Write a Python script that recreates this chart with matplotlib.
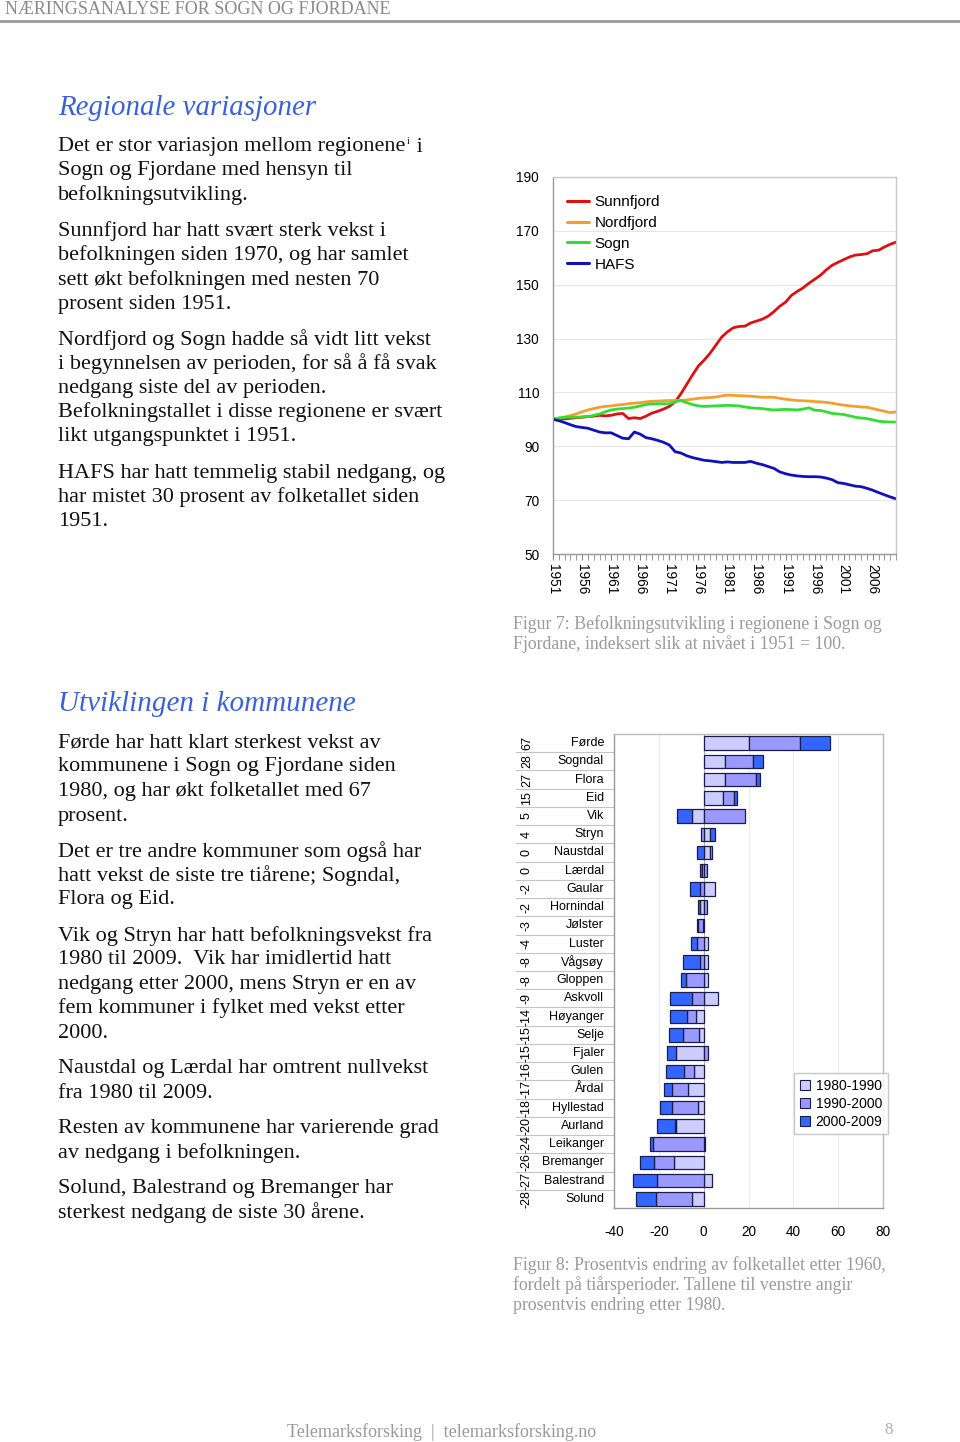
import matplotlib
matplotlib.use('Agg')
import matplotlib.pyplot as plt
from matplotlib.patches import Patch
from matplotlib.lines import Line2D
import numpy as np

W, H = 960, 1442
SERIF = 'Liberation Serif'
SANS = 'Liberation Sans'

# ---- figur 7: befolkning indeksert 1951 = 100 ----
years = list(range(1951, 2011))
sunnfjord = [100, 100, 100.2, 100.4, 100.6, 100.8, 101, 101.2, 101.5, 101.3,
             101.5, 102, 102.2, 100.3, 100.6, 100.3, 101.2, 102.3, 103, 103.8,
             104.8, 106.5, 109.5, 113, 116.5, 119.8, 122, 124.5, 127.5, 130.5,
             132.5, 134, 134.5, 134.6, 135.8, 136.5, 137.2, 138.3, 140, 142,
             143.5, 146, 147.5, 148.8, 150.5, 152, 153.5, 155.5, 157.2, 158.3,
             159.3, 160.3, 161, 161.2, 161.5, 162.6, 162.8, 164, 165, 165.8]
nordfjord = [100, 100.4, 100.8, 101.4, 102, 102.8, 103.5, 104, 104.5, 104.8,
             105, 105.3, 105.5, 105.8, 106, 106.2, 106.5, 106.7, 106.8, 106.9,
             107, 107, 107, 107.2, 107.5, 107.8, 108, 108.1, 108.3, 108.7,
             109, 108.9, 108.8, 108.7, 108.6, 108.4, 108.2, 108.2, 108.2, 107.8,
             107.5, 107.2, 107, 106.9, 106.8, 106.6, 106.5, 106.3, 106, 105.6,
             105.3, 105, 104.8, 104.6, 104.5, 104, 103.5, 103, 102.5, 102.8]
sogn = [100, 100.5, 100.8, 100.8, 100.8, 100.9, 101, 101.5, 102, 102.8,
        103.5, 103.8, 104, 104.2, 104.5, 105, 105.5, 105.7, 105.8, 105.8,
        105.8, 106.5, 107, 106.2, 105.5, 105, 104.8, 104.9, 105, 105.1,
        105.2, 105.1, 105, 104.6, 104.3, 104.1, 104, 103.7, 103.5, 103.6,
        103.7, 103.6, 103.5, 103.8, 104.3, 103.4, 103.3, 102.8, 102.2, 102,
        101.8, 101.3, 100.8, 100.5, 100.3, 99.8, 99.3, 99.1, 99, 99]
hafs = [100, 99.5, 98.8, 98, 97.3, 97, 96.7, 96, 95.3, 95,
        95, 94, 93, 92.8, 95.3, 94.5, 93.2, 92.8, 92.2, 91.5,
        90.5, 88, 87.5, 86.5, 85.8, 85.3, 84.8, 84.6, 84.3, 84,
        84.2, 84, 84, 84, 84.4, 83.7, 83.2, 82.5, 81.8, 80.5,
        79.8, 79.3, 79, 78.8, 78.7, 78.7, 78.6, 78.2, 77.6, 76.5,
        76.2, 75.7, 75.2, 75, 74.4, 73.7, 72.8, 72, 71.2, 70.5]

# ---- figur 8: prosentvis endring per tiar ----
kommuner = ['Førde', 'Sogndal', 'Flora', 'Eid', 'Vik', 'Stryn', 'Naustdal',
            'Lærdal', 'Gaular', 'Hornindal', 'Jølster', 'Luster', 'Vågsøy',
            'Gloppen', 'Askvoll', 'Høyanger', 'Selje', 'Fjaler', 'Gulen',
            'Årdal', 'Hyllestad', 'Aurland', 'Leikanger', 'Bremanger',
            'Balestrand', 'Solund']
endring_1980 = ['67', '28', '27', '15', '5', '4', '0', '0', '-2', '-2', '-3',
                '-4', '-8', '-8', '-9', '-14', '-15', '-15', '-16', '-17',
                '-18', '-20', '-24', '-26', '-27', '-28']
p1980_1990 = [20, 9.4, 9.4, 8.6, -5.2, 2.7, 2.7, -0.6, 5.2, -1.8, -0.4, 2,
              2, 1.9, 6.2, -3.3, -2.1, -12.3, -4.3, -6.8, -2.7, -12.2, 0.4,
              -13.1, 3.7, -5.4]
p1990_2000 = [23, 12.5, 14, 4.8, 18.3, -1.2, 0.9, 1.5, -1.8, 1.5, -2.2, -2.8,
              -1.8, -8, -5, -4.2, -7.1, 1.8, -4.3, -7.4, -11.5, -0.4, -22.6,
              -8.9, -20.8, -15.9]
p2000_2009 = [13.5, 4.5, 1.6, 1.6, -6.7, 2.4, -3, -0.9, -4.3, -0.7, -0.2,
              -2.7, -7.6, -2.1, -9.8, -7.4, -6.4, -4.2, -8.3, -3.6, -5.2,
              -8.2, -1.5, -6.5, -10.7, -8.9]
perioder = ['1980-1990', '1990-2000', '2000-2009']


def fx(x):
    return x / W


def fy(y):
    return 1 - y / H


fig = plt.figure(figsize=(W / 100, H / 100), dpi=100)
renderer = fig.canvas.get_renderer()

# header
fig.text(fx(5), fy(9), 'NÆRINGSANALYSE FOR SOGN OG FJORDANE', family=SERIF,
         fontsize=13, color='#8a8a8a', va='center', ha='left')
fig.add_artist(Line2D([0, 1], [fy(21), fy(21)], color='#9a9a9a', lw=2,
                      transform=fig.transFigure))

blue = '#3a62d6'
body = dict(family=SERIF, fontsize=16, color='#111111', va='center', ha='left')

fig.text(fx(58), fy(108), 'Regionale variasjoner', family=SERIF, style='italic',
         fontsize=20.8, color=blue, va='center')

# first line with a small footnote mark after "regionene"
t0 = fig.text(fx(58), fy(147), 'Det er stor variasjon mellom regionene', **body)
x_end = t0.get_window_extent(renderer).x1
fig.text(x_end / W + fx(1), fy(141), 'i', family=SERIF, fontsize=7,
         color='#111111', va='center', ha='left')
fig.text(x_end / W + fx(6), fy(147), ' i', **body)

left_lines = [
    (171, 'Sogn og Fjordane med hensyn til'),
    (195, 'befolkningsutvikling.'),
    (231, 'Sunnfjord har hatt svært sterk vekst i'),
    (255, 'befolkningen siden 1970, og har samlet'),
    (280, 'sett økt befolkningen med nesten 70'),
    (304, 'prosent siden 1951.'),
    (340, 'Nordfjord og Sogn hadde så vidt litt vekst'),
    (364, 'i begynnelsen av perioden, for så å få svak'),
    (388, 'nedgang siste del av perioden.'),
    (412, 'Befolkningstallet i disse regionene er svært'),
    (436, 'likt utgangspunktet i 1951.'),
    (473, 'HAFS har hatt temmelig stabil nedgang, og'),
    (497, 'har mistet 30 prosent av folketallet siden'),
    (521, '1951.'),
]
for y, s in left_lines:
    fig.text(fx(58), fy(y), s, **body)

fig.text(fx(58), fy(704), 'Utviklingen i kommunene', family=SERIF, style='italic',
         fontsize=21, color=blue, va='center')
left_lines2 = [
    (743, 'Førde har hatt klart sterkest vekst av'),
    (767, 'kommunene i Sogn og Fjordane siden'),
    (791, '1980, og har økt folketallet med 67'),
    (816, 'prosent.'),
    (852, 'Det er tre andre kommuner som også har'),
    (876, 'hatt vekst de siste tre tiårene; Sogndal,'),
    (900, 'Flora og Eid.'),
    (936, 'Vik og Stryn har hatt befolkningsvekst fra'),
    (960, '1980 til 2009.  Vik har imidlertid hatt'),
    (984, 'nedgang etter 2000, mens Stryn er en av'),
    (1008, 'fem kommuner i fylket med vekst etter'),
    (1033, '2000.'),
    (1069, 'Naustdal og Lærdal har omtrent nullvekst'),
    (1093, 'fra 1980 til 2009.'),
    (1129, 'Resten av kommunene har varierende grad'),
    (1153, 'av nedgang i befolkningen.'),
    (1189, 'Solund, Balestrand og Bremanger har'),
    (1213, 'sterkest nedgang de siste 30 årene.'),
]
for y, s in left_lines2:
    fig.text(fx(58), fy(y), s, **body)

cap = dict(family=SERIF, fontsize=12.8, color='#9a9a9a', va='center', ha='left')
fig.text(fx(513), fy(624), 'Figur 7: Befolkningsutvikling i regionene i Sogn og', **cap)
fig.text(fx(513), fy(644), 'Fjordane, indeksert slik at nivået i 1951 = 100.', **cap)
fig.text(fx(513), fy(1265), 'Figur 8: Prosentvis endring av folketallet etter 1960,', **cap)
fig.text(fx(513), fy(1285), 'fordelt på tiårsperioder. Tallene til venstre angir', **cap)
fig.text(fx(513), fy(1305), 'prosentvis endring etter 1980.', **cap)

fig.text(fx(287), fy(1432), 'Telemarksforsking  |  telemarksforsking.no', family=SERIF,
         fontsize=13, color='#9a9a9a', va='center')
fig.text(fx(884), fy(1430), '8', family=SERIF, fontsize=12, color='#b0b0b0', va='center')

# ---- line chart ----
ax1 = fig.add_axes([fx(553), fy(554), (896 - 553) / W, (554 - 177) / H])
colors = {'Sunnfjord': '#dd1111', 'Nordfjord': '#f0a030', 'Sogn': '#33dd33', 'HAFS': '#1111bb'}
for name, vals in [('Sunnfjord', sunnfjord), ('Nordfjord', nordfjord),
                   ('Sogn', sogn), ('HAFS', hafs)]:
    ax1.plot(years, vals, color=colors[name], lw=2.0, label=name, solid_capstyle='round')
ax1.set_xlim(1951, 2010)
ax1.set_ylim(50, 190)
ax1.set_yticks(range(50, 191, 20))
ax1.set_xticks(range(1951, 2010, 5))
ax1.set_xticks(range(1951, 2011), minor=True)
ax1.set_xticklabels([str(y) for y in range(1951, 2010, 5)], rotation=270,
                    family=SANS, fontsize=9.8)
for t in ax1.get_yticklabels():
    t.set_family(SANS)
    t.set_fontsize(9.8)
ax1.tick_params(axis='y', length=0, pad=10)
ax1.tick_params(axis='x', which='both', length=4, color='#888888', pad=3)
ax1.grid(axis='y', color='#e6e6e6', lw=0.8)
ax1.set_axisbelow(True)
for s in ax1.spines.values():
    s.set_color('#c8c8c8')
    s.set_linewidth(1)
ax1.spines['left'].set_color('#999999')
ax1.spines['bottom'].set_color('#999999')
leg1 = ax1.legend(loc='upper left', bbox_to_anchor=(fx(567), fy(195)),
                  bbox_transform=fig.transFigure, frameon=False,
                  prop={'family': SANS, 'size': 11}, handlelength=1.45,
                  handletextpad=0.35, labelspacing=0.45, borderpad=0, borderaxespad=0)
for l in leg1.get_lines():
    l.set_linewidth(2.2)

# ---- bar chart ----
ax2 = fig.add_axes([fx(614), fy(1208), (883 - 614) / W, (1208 - 734) / H])
bar_colors = ['#ccccff', '#9999ff', '#3366ff']
ypos = np.arange(len(kommuner))
pos_base = np.zeros(len(kommuner))
neg_base = np.zeros(len(kommuner))
for vals, col in zip([p1980_1990, p1990_2000, p2000_2009], bar_colors):
    v = np.array(vals, dtype=float)
    left = np.where(v >= 0, pos_base, neg_base)
    ax2.barh(ypos, v, left=left, height=0.74, color=col, edgecolor='#1c1c4a',
             linewidth=0.9, zorder=3)
    pos_base = pos_base + np.where(v >= 0, v, 0)
    neg_base = neg_base + np.where(v < 0, v, 0)
ax2.axvline(0, color='#aaaaaa', lw=0.8, zorder=2)
ax2.set_xlim(-40, 80)
ax2.set_ylim(len(kommuner) - 0.5, -0.5)
ax2.set_xticks(range(-40, 81, 20))
ax2.set_xticklabels([str(v) for v in range(-40, 81, 20)], family=SANS, fontsize=9.8)
ax2.set_yticks([])
ax2.tick_params(axis='x', length=0, pad=12)
ax2.grid(axis='x', color='#ececec', lw=0.8)
ax2.set_axisbelow(True)
for s in ax2.spines.values():
    s.set_color('#bbbbbb')
    s.set_linewidth(1)
ax2.spines['left'].set_color('#999999')
ax2.spines['bottom'].set_color('#999999')

ytr = ax2.get_yaxis_transform()
x_name = (604 - 614) / 269
x_num = (527 - 614) / 269
x_sep = (516 - 614) / 269
for i, (k, e) in enumerate(zip(kommuner, endring_1980)):
    ax2.text(x_name, i, k, transform=ytr, ha='right', va='center',
             family=SANS, fontsize=9, clip_on=False)
    ax2.text(x_num, i, e, transform=ytr, ha='center', va='center',
             rotation=90, family=SANS, fontsize=9, clip_on=False)
    if i < len(kommuner) - 1:
        ax2.add_line(Line2D([x_sep, 0], [i + 0.5, i + 0.5], transform=ytr,
                            color='#c4c4c4', lw=0.8, clip_on=False))

handles = [Patch(facecolor=c, edgecolor='#1c1c4a', lw=0.8, label=p)
           for c, p in zip(bar_colors, perioder)]
leg2 = fig.legend(handles=handles, loc='upper left',
                  bbox_to_anchor=(fx(794), fy(1073)), frameon=True,
                  prop={'family': SANS, 'size': 10}, handlelength=0.75,
                  handleheight=0.75, handletextpad=0.4, labelspacing=0.3,
                  borderpad=0.4, borderaxespad=0, fancybox=False)
leg2.get_frame().set_edgecolor('#bbbbbb')
leg2.get_frame().set_linewidth(1)

fig.savefig('out.png', dpi=100)
